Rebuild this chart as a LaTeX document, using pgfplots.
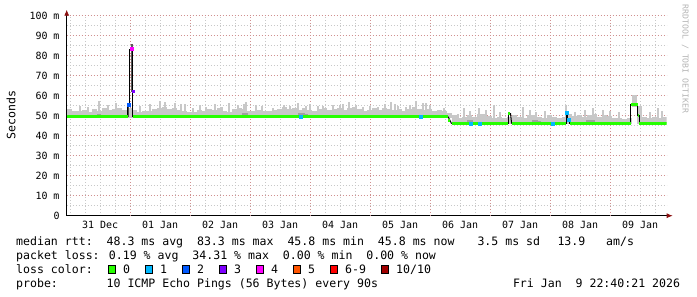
\documentclass[border=0pt]{standalone}
\usepackage{fontspec}
\setmainfont{DejaVu Sans Mono}
\usepackage{pgfplots}
\usepackage{pgfplotstable}
\pgfplotsset{compat=1.18}
\usetikzlibrary{arrows.meta}

\definecolor{lgreen}{HTML}{26FF00}
\definecolor{lcyan}{HTML}{00B8FF}
\definecolor{lblue}{HTML}{0059FF}
\definecolor{lpurple}{HTML}{7E00FF}
\definecolor{lmagenta}{HTML}{FF00FF}
\definecolor{lorange}{HTML}{FF5500}
\definecolor{lred}{HTML}{FF0000}
\definecolor{ldred}{HTML}{A10000}
\definecolor{smoke}{HTML}{C8C8C8}
\definecolor{dsmoke}{HTML}{A0A0A0}
\definecolor{mgrid}{HTML}{D09090}
\definecolor{ngrid}{HTML}{C8C8C8}
\definecolor{arrowred}{HTML}{8B1010}
\definecolor{wmark}{HTML}{B4B4B4}

% smoke body: bin index (2 h bins from 30 Dec 22:40), top and base in ms
\pgfplotstableread{
i top base
0 53.2 49
1 52.2 49
2 52.2 49
3 52.7 49
4 51.7 49
5 53.2 49
6 52.2 49
7 53.7 49
8 52.7 49
9 53.2 49
10 53.7 49
11 52.7 49
12 53.7 49
13 52.7 49
14 51.7 49
15 52.2 49
16 52.2 49
17 53.2 49
18 53.7 49
19 54.2 49
20 53.2 49
21 53.7 49
22 52.7 49
23 52.2 49
24 51.7 49
25 51.7 49
26 52.7 49
27 52.2 49
28 53.2 49
29 52.7 49
30 53.7 49
31 52.2 49
32 51.7 49
33 53.2 49
34 53.7 49
35 53.2 49
36 52.2 49
37 52.2 49
38 52.7 49
39 52.2 49
40 52.2 49
41 52.7 49
42 53.2 49
43 54.2 49
44 53.2 49
45 53.7 49
46 52.7 49
47 53.7 49
48 52.7 49
49 52.2 49
50 53.2 49
51 53.7 49
52 52.7 49
53 53.2 49
54 53.7 49
55 52.7 49
56 53.7 49
57 54.2 49
58 53.2 49
59 52.2 49
60 52.7 49
61 53.7 49
62 52.7 49
63 53.7 49
64 53.2 49
65 52.7 49
66 53.2 49
67 52.2 49
68 53.2 49
69 54.2 49
70 53.2 49
71 52.7 49
72 53.2 49
73 52.2 49
74 52.7 49
75 52.2 49
76 51.5 49
77 50.5 47
78 49 45.8
79 49.5 45.8
80 50.5 45.8
81 49.5 45.8
82 51 45.8
83 51 45.8
84 50 45.8
85 49 45.8
86 49.5 45.8
87 49 45.8
88 49.5 45.8
89 50.5 45.8
90 49.5 45.8
91 49 45.8
92 50.5 45.8
93 50.5 45.8
94 49.5 45.8
95 49 45.8
96 50.5 45.8
97 49.5 45.8
98 49 45.8
99 49.5 45.8
100 51 45.8
101 50 45.8
102 50.5 45.8
103 49.5 45.8
104 50.5 45.8
105 51 45.8
106 49.5 45.8
107 50.5 45.8
108 50 45.8
109 49 45.8
110 49 45.8
111 48.5 45.8
112 49 45.8
113 60.5 54.5
114 55 45.8
115 49.5 45.8
116 49 45.8
117 49.5 45.8
118 49 45.8
119 49.5 45.8
}\smoketab

% narrow smoke spikes: day (from 31 Dec 00:00), top, base
\pgfplotstableread{
d top base
0.167 55 49
0.3 54.5 49
0.478 57.3 49
0.633 55.5 49
0.767 56.2 49
0.85 54 49
1.167 55 49
1.333 56 49
1.5 57.3 49
1.583 57 49
1.75 56.2 49
1.85 55.7 49
1.917 56 49
2.05 54 49
2.167 55.5 49
2.267 54.5 49
2.417 56 49
2.533 54.5 49
2.65 56.5 49
2.8 55.3 49
2.9 56 49
2.933 57 49
3.1 55.5 49
3.2 55 49
3.383 53.7 49
3.567 55.5 49
3.667 55 49
3.8 56.6 49
3.933 55 49
4.0 56 49
4.133 55 49
4.217 55 49
4.383 55.3 49
4.5 55.5 49
4.55 55.7 49
4.65 57 49
4.767 55.3 49
4.883 54.5 49
5.0 55 49
5.133 54.5 49
5.25 56 49
5.35 57 49
5.417 56 49
5.467 55 49
5.6 54.5 49
5.667 55.5 49
5.767 57.3 49
5.883 56.2 49
5.933 56.2 49
6.0 55.5 49
6.233 53.7 49
6.467 51 45.8
6.567 53.7 45.8
6.667 52.5 45.8
6.817 54 45.8
6.933 53 45.8
7.067 55.3 45.8
7.167 52 45.8
7.55 54.5 45.8
7.667 53 45.8
7.767 52 45.8
7.917 52.5 45.8
8.267 55.3 45.8
8.417 52 45.8
8.583 53 45.8
8.717 53.7 45.8
8.883 53 45.8
9.0 52.5 45.8
9.15 52 45.8
9.667 52 45.8
9.8 53.7 45.8
9.867 52.5 45.8
}\spiketab

% darker smoke patches near the median: day, top, base
\pgfplotstableread{
d top base
0.483 51 49
2.90 51.2 49
2.94 51.2 49
3.83 51.5 49
3.89 51.5 49
3.93 51 49
6.64 48 45.8
6.69 47.8 45.8
7.72 47.8 45.8
7.77 47.8 45.8
7.82 47.5 45.8
8.62 48 45.8
8.67 48 45.8
8.72 47.8 45.8
}\darktab

\begin{document}
\begin{tikzpicture}
\useasboundingbox (-66.7bp,-81.3bp) rectangle (630.3bp,215.7bp);
\begin{axis}[
  at={(0,0)}, anchor=south west,
  scale only axis, width=600bp, height=200bp,
  xmin=-0.0556, xmax=9.944, ymin=0, ymax=100,
  axis lines=left,
  axis line style={line width=0.8bp, black, -{Latex[length=6bp,width=5bp,color=arrowred,fill=arrowred]}, shorten >=-6bp},
  xtick={0.5,1.5,...,9.5},
  xticklabels={31 Dec,01 Jan,02 Jan,03 Jan,04 Jan,05 Jan,06 Jan,07 Jan,08 Jan,09 Jan},
  minor xtick={0,0.25,...,9.9},
  xminorgrids=true, xmajorgrids=false,
  extra x ticks={1,2,...,9},
  extra x tick labels={},
  extra x tick style={xmajorgrids=true, major tick length=0pt},
  ytick={0,10,...,100},
  yticklabels={0,10 m,20 m,30 m,40 m,50 m,60 m,70 m,80 m,90 m,100 m},
  minor ytick={5,15,...,95},
  ymajorgrids=true, yminorgrids=true,
  major grid style={mgrid, line width=0.8bp, dash pattern=on 1bp off 2bp},
  minor grid style={ngrid, line width=0.8bp, dash pattern=on 1bp off 2bp},
  major tick length=0pt, minor tick length=0pt,
  tick label style={font=\fontsize{10}{12}\selectfont, inner sep=0pt},
  xticklabel style={anchor=north, yshift=-5bp},
  yticklabel style={anchor=east, xshift=-7bp},
  clip=true,
]
% smoke body: one bar per 2 h bin from base to top
\addplot[draw=none, mark=none, forget plot,
  error bars/.cd, y dir=plus, y explicit,
  error mark=none, error bar style={smoke, line width=5bp}]
  table[x expr={-0.0556+(\thisrow{i}+0.5)/12}, y=base, y error expr={\thisrow{top}-\thisrow{base}}] {\smoketab};
% narrow smoke spikes
\addplot[draw=none, mark=none, forget plot,
  error bars/.cd, y dir=plus, y explicit,
  error mark=none, error bar style={smoke, line width=2bp}]
  table[x=d, y=base, y error expr={\thisrow{top}-\thisrow{base}}] {\spiketab};
% darker smoke near the median
\addplot[draw=none, mark=none, forget plot,
  error bars/.cd, y dir=plus, y explicit,
  error mark=none, error bar style={dsmoke, line width=3.5bp}]
  table[x=d, y=base, y error expr={\thisrow{top}-\thisrow{base}}] {\darktab};
% spike smoke (dark)
\addplot[black!65, line width=2bp] coordinates {(1.040,62) (1.040,86)};
\addplot[black!70, line width=2bp] coordinates {(0.960,49.5) (0.960,55.5)};
% black connecting lines of the median
\addplot[black, line width=1bp] coordinates {(0.965,49.5) (0.965,55.5) (0.995,55.5) (0.995,83.3) (1.045,83.3) (1.045,49.5)};
\addplot[black, line width=1bp] coordinates {(6.30,49.5) (6.33,47.8) (6.36,46)};
\addplot[black, line width=1bp] coordinates {(7.30,46) (7.30,51.3)};
\addplot[black, line width=1bp] coordinates {(7.34,51.3) (7.36,46)};
\addplot[black, line width=1bp] coordinates {(8.27,46) (8.27,51.5) (8.29,51.5) (8.29,48) (8.33,48) (8.33,46)};
\addplot[black, line width=1bp] coordinates {(9.345,46) (9.345,55.8)};
\addplot[black, line width=1bp] coordinates {(9.46,55.8) (9.46,50) (9.49,50) (9.49,46)};
% median rtt, loss 0
\addplot[lgreen, line width=3bp] coordinates {(-0.0556,49.5) (0.965,49.5)};
\addplot[lgreen, line width=3bp] coordinates {(1.045,49.5) (6.30,49.5)};
\addplot[lgreen, line width=3bp] coordinates {(6.30,47.8) (6.34,47.8)};
\addplot[lgreen, line width=3bp] coordinates {(6.36,46) (7.30,46)};
\addplot[lgreen, line width=3bp] coordinates {(7.30,51.3) (7.34,51.3)};
\addplot[lgreen, line width=3bp] coordinates {(7.36,46) (8.27,46)};
\addplot[lgreen, line width=3bp] coordinates {(8.33,46) (9.345,46)};
\addplot[lgreen, line width=3bp] coordinates {(9.345,55.8) (9.46,55.8)};
\addplot[lgreen, line width=3bp] coordinates {(9.46,50) (9.49,50)};
\addplot[lgreen, line width=3bp] coordinates {(9.49,46) (9.944,46)};
% loss 1..4 points
\addplot[only marks, mark=square*, mark size=1.5bp, lcyan, mark options={draw=lcyan, fill=lcyan}] coordinates {(3.85,49.5) (5.85,49.5) (6.675,46) (6.82,46) (8.05,46) (8.28,51.3) (8.31,48)};
\addplot[only marks, mark=square*, mark size=1.5bp, lblue, mark options={draw=lblue, fill=lblue}] coordinates {(0.975,55.5)};
\addplot[only marks, mark=square*, mark size=1.5bp, lmagenta, mark options={draw=lmagenta, fill=lmagenta}] coordinates {(1.02,83.3)};
\addplot[only marks, mark=square*, mark size=1bp, lpurple, mark options={draw=lpurple, fill=lpurple}] coordinates {(1.05,62.5)};
\end{axis}

% y label and watermark
\node[rotate=90, font=\fontsize{11.6}{14}\selectfont, inner sep=0pt] at (-55.7bp,100.7bp) {Seconds};
\node[rotate=-90, font=\fontsize{8.2}{10}\selectfont, text=wmark, inner sep=0pt] at (618.5bp,156.7bp) {RRDTOOL / TOBI OETIKER};

% legend
\begin{scope}[every node/.style={font=\fontsize{11.6}{14}\selectfont, inner sep=0pt, anchor=base west}]
\node at (-50.7bp,-30bp) {median rtt:\ \ 48.3 ms avg\ \ 83.3 ms max\ \ 45.8 ms min\ \ 45.8 ms now};
\node at (410.6bp,-30bp) {3.5 ms sd};
\node at (490.6bp,-30bp) {13.9};
\node at (539.3bp,-30bp) {am/s};
\node at (-50.7bp,-43.6bp) {packet loss: 0.19 \% avg\ \ 34.31 \% max\ \ 0.00 \% min\ \ 0.00 \% now};
\node at (-50.7bp,-57.6bp) {loss color:};
\node at (-50.7bp,-71.6bp) {probe:\ \ \ \ \ \ \ 10 ICMP Echo Pings (56 Bytes) every 90s};
\node[anchor=base east] at (613.5bp,-71.6bp) {Fri Jan\ \ 9 22:40:21 2026};
\foreach \xx/\cc/\lab in {41.3/lgreen/0, 78.3/lcyan/1, 115.3/lblue/2, 152.3/lpurple/3, 189.3/lmagenta/4, 226.3/lorange/5, 263.3/lred/6-9, 314.3/ldred/{10/10}} {
  \filldraw[fill=\cc, draw=black, line width=0.8bp] (\xx bp,-57.6bp) rectangle ++(7.5bp,7.5bp);
  \node at ([xshift=15bp]\xx bp,-57.6bp) {\lab};
}
\end{scope}
\end{tikzpicture}
\end{document}
